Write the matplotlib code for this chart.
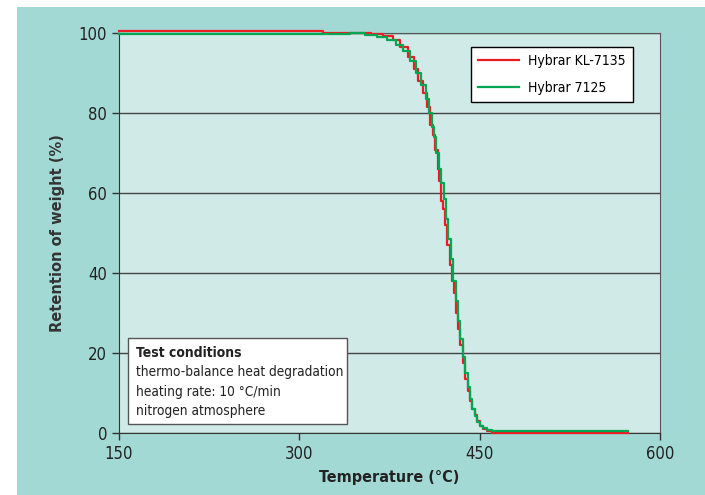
import numpy as np
import matplotlib.pyplot as plt
from matplotlib.patches import Rectangle

# dane
temp_kl = [150, 320, 340, 360, 370, 378, 384, 390, 395, 399, 403, 406, 409, 411, 413, 415,
           416.5, 418, 419.5, 421, 423, 425, 427, 428.5, 430, 432, 434, 436, 438, 440,
           442, 444, 446, 448, 450, 453, 456, 460, 573]
waga_kl = [100.4, 100, 100, 99.8, 99.2, 98.2, 96.4, 94, 91, 88, 85, 81.5, 77, 74.5, 70.7,
           66, 63, 58, 56, 52, 47, 42, 38, 35, 30, 26, 22, 17.5, 13.4, 10.5,
           8, 6, 4.5, 3, 1.8, 1, 0.5, 0.1, 0.0]

temp_7125 = [150, 342, 355, 365, 373, 380, 386, 392, 397, 401, 405, 408, 410, 412, 414,
             416, 418, 420, 422, 424, 426, 428, 430, 432, 434, 436, 438, 440, 442,
             444, 446, 448, 450, 453, 456, 460, 573]
waga_7125 = [99.7, 99.9, 99.5, 99, 98.2, 97, 95.5, 93, 90, 87, 83.5, 80, 76.5, 74, 70,
             66, 62.5, 58.5, 53.5, 48.5, 43.5, 38, 33, 28, 23.5, 19, 15, 11.5, 8.5,
             6, 4.2, 2.8, 1.8, 1.2, 0.8, 0.6, 0.6]

etykiety = ['Hybrar KL-7135', 'Hybrar 7125']
kolory = ['#ED1C24', '#00A651']
warunki = ['thermo-balance heat degradation', 'heating rate: 10 °C/min', 'nitrogen atmosphere']

plt.rcParams['font.family'] = ['DejaVu Sans']
plt.rcParams['font.stretch'] = 'condensed'

fig = plt.figure(figsize=(7.05, 4.95), dpi=100)
tlo = Rectangle((17 / 705, 0), 1 - 17 / 705, 1 - 7 / 495, transform=fig.transFigure,
                facecolor='#A3D9D5', edgecolor='none', zorder=-10)
fig.add_artist(tlo)
ax = fig.add_axes([119 / 705, 1 - 433 / 495, 541 / 705, 400 / 495])
ax.set_zorder(5)
ax.set_facecolor('#D0EAE8')

ax.plot(temp_kl, waga_kl, drawstyle='steps-post', color=kolory[0], lw=1.6, label=etykiety[0],
        zorder=3, clip_on=False)
ax.plot(temp_7125, waga_7125, drawstyle='steps-post', color=kolory[1], lw=1.6, label=etykiety[1],
        zorder=3, clip_on=False)

ax.set_xlim(150, 600)
ax.set_ylim(0, 100)
ax.set_xticks([150, 300, 450, 600])
ax.set_yticks([0, 20, 40, 60, 80, 100])
ax.yaxis.grid(True, color='#444444', lw=1)
ax.set_axisbelow(True)
ax.tick_params(direction='out', length=5, width=1, color='#333333', labelsize=12, labelcolor='#222222')
for s in ['left', 'bottom']:
    ax.spines[s].set_color('#333333')
for s in ['top', 'right']:
    ax.spines[s].set_color('#555555')

ax.set_xlabel('Temperature (°C)', fontsize=11.5, fontweight='bold', color='#222222', labelpad=5)
ax.set_ylabel('Retention of weight (%)', fontsize=10.5, fontweight='bold', color='#333333',
              fontstretch='normal', labelpad=10)

leg = ax.legend(loc='upper right', bbox_to_anchor=(0.950, 0.965), fontsize=10, frameon=True,
                fancybox=False, framealpha=1, handlelength=2.95, handletextpad=0.65,
                labelspacing=0.95, borderpad=0.5, borderaxespad=0)
leg.get_frame().set_edgecolor('black')
leg.get_frame().set_linewidth(1)

# ramka z warunkami testu
ax.add_patch(Rectangle((0.0166, 0.0225), 0.4048, 0.215, transform=ax.transAxes, facecolor='white',
                       edgecolor='#555555', lw=1, zorder=4))
ax.text(0.0305, 0.2, 'Test conditions', transform=ax.transAxes, fontsize=10, fontweight='bold',
        va='center', color='#222222', zorder=5)
for i, t in enumerate(warunki):
    ax.text(0.0305, 0.152 - i * 0.049, t, transform=ax.transAxes, fontsize=9.8,
            va='center', color='#222222', zorder=5)

plt.savefig('out.png', dpi=100)
